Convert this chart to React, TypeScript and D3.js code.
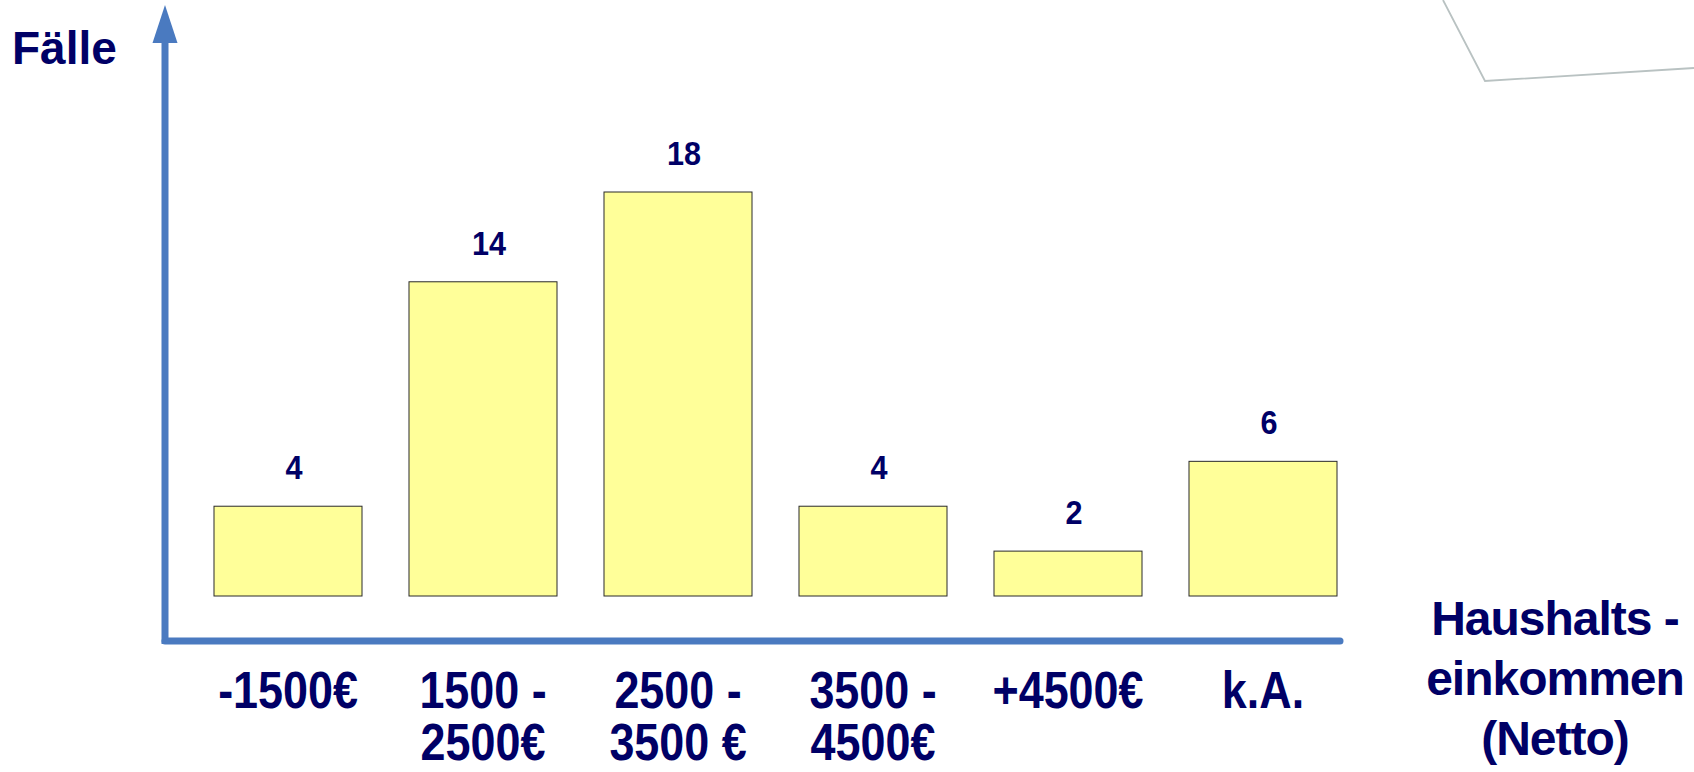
import React, { useEffect } from "react";
import * as d3 from "d3";

const categories: string[][] = [
  ["-1500€"],
  ["1500 -", "2500€"],
  ["2500 -", "3500 €"],
  ["3500 -", "4500€"],
  ["+4500€"],
  ["k.A."],
];
const values: number[] = [4, 14, 18, 4, 2, 6];
const yAxisTitle = "Fälle";
const xAxisTitle: string[] = ["Haushalts -", "einkommen", "(Netto)"];

const W = 1694;
const H = 772;
const NAVY = "#000066";
const AXIS = "#4a7ac0";
const FONT = "'Liberation Sans', Arial, Helvetica, sans-serif";

export default function App() {
  useEffect(() => {
    document.body.style.margin = "0";
  }, []);

  const x = d3
    .scaleBand<number>()
    .domain(values.map((_, i) => i))
    .range([190.5, 1360.5])
    .paddingInner(0.241)
    .paddingOuter(0.1205);

  const y = d3.scaleLinear().domain([0, 18]).range([596, 192]);

  const axisX = 165;
  const axisY = 641;
  const cx = (i: number) => x(i)! + x.bandwidth() / 2;

  return (
    <svg width={W} height={H} style={{ display: "block" }} fontFamily={FONT}>
      <rect width={W} height={H} fill="#ffffff" />
      {/* decorative corner line */}
      <polyline
        points="1443,0 1485,81 1694,68"
        fill="none"
        stroke="#b9c2c2"
        strokeWidth={1.8}
      />

      {/* bars */}
      {values.map((v, i) => (
        <rect
          key={"b" + i}
          x={x(i)!}
          y={y(v)}
          width={x.bandwidth()}
          height={y(0) - y(v)}
          fill="#ffff99"
          stroke="#2a2a2a"
          strokeWidth={1}
        />
      ))}

      {/* value labels */}
      {values.map((v, i) => (
        <text
          key={"v" + i}
          transform={`translate(${cx(i) + 6},${y(v) - 27}) scale(0.9,1)`}
          textAnchor="middle"
          fontSize={34}
          fontWeight="bold"
          fill={NAVY}
        >
          {v}
        </text>
      ))}

      {/* axes */}
      <line
        x1={axisX}
        y1={axisY}
        x2={1340}
        y2={axisY}
        stroke={AXIS}
        strokeWidth={7}
        strokeLinecap="round"
      />
      <line
        x1={axisX}
        y1={axisY + 3}
        x2={axisX}
        y2={40}
        stroke={AXIS}
        strokeWidth={7}
      />
      <polygon
        points={`${axisX},5 ${axisX - 12.5},43 ${axisX + 12.5},43`}
        fill={AXIS}
      />

      {/* y axis title */}
      <text x={12} y={64} fontSize={46} fontWeight="bold" fill={NAVY}>
        {yAxisTitle}
      </text>

      {/* category labels */}
      {categories.map((lines, i) => (
        <text
          key={"c" + i}
          transform={`translate(${cx(i)},0) scale(0.88,1)`}
          textAnchor="middle"
          fontSize={51}
          fontWeight="bold"
          fill={NAVY}
        >
          {lines.map((l, j) => (
            <tspan key={j} x={0} y={708 + j * 52}>
              {l}
            </tspan>
          ))}
        </text>
      ))}

      {/* x axis title */}
      <text
        textAnchor="middle"
        fontSize={48}
        fontWeight="bold"
        fill={NAVY}
        letterSpacing={-1}
      >
        {xAxisTitle.map((l, j) => (
          <tspan key={j} x={1555} y={635 + j * 60}>
            {l}
          </tspan>
        ))}
      </text>
    </svg>
  );
}
